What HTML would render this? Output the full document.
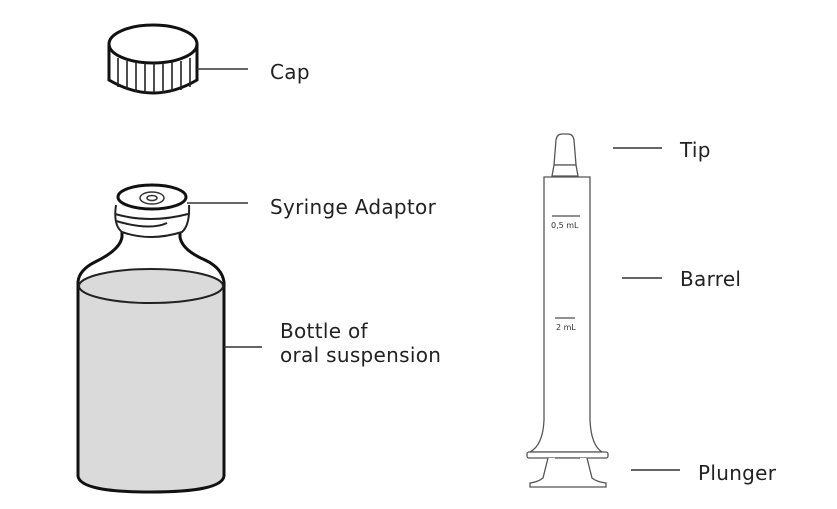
<!DOCTYPE html>
<html><head><style>body{margin:0;background:#fff}svg{display:block}text{font-family:"DejaVu Sans","Liberation Sans",sans-serif;font-size:20px;letter-spacing:0.3px;fill:#222}</style></head><body>
<svg width="837" height="509" viewBox="0 0 837 509">
<!-- Cap -->
<g stroke="#111" stroke-width="3" fill="#fff">
<path d="M109 44 L109 80 Q153 106 197 80 L197 44"/>
<ellipse cx="153" cy="44" rx="44" ry="19"/>
</g>
<g stroke="#222" stroke-width="1.6">
<line x1="118" y1="58" x2="118" y2="87"/><line x1="127" y1="61" x2="127" y2="90"/><line x1="136" y1="62" x2="136" y2="92"/><line x1="145" y1="63" x2="145" y2="93"/><line x1="154" y1="63" x2="154" y2="93"/><line x1="163" y1="63" x2="163" y2="93"/><line x1="172" y1="62" x2="172" y2="92"/><line x1="181" y1="61" x2="181" y2="90"/><line x1="190" y1="58" x2="190" y2="87"/>
</g>
<line x1="197" y1="69" x2="248" y2="69" stroke="#333" stroke-width="1.5"/>
<!-- Bottle -->
<path d="M78 286 L78 476 Q78 492 150 492 Q224 492 224 476 L224 286 Z" fill="#dadada"/>
<g stroke="#111" stroke-width="3" fill="none">
<path d="M122 225 L122 237 Q120 250 95 262 Q79 270 78 282 L78 476 Q80 492 150 492 Q222 492 224 476 L224 282 Q222 268 205 260 Q182 250 180 237 L180 225"/>
</g>
<ellipse cx="151" cy="286" rx="72" ry="17" fill="#dadada" stroke="#222" stroke-width="2"/>
<!-- threads -->
<g stroke="#222" stroke-width="2" fill="#fff">
<path d="M116 205 Q113 225 122 232 Q150 242 182 232 Q190 225 189 205"/>
<path d="M115 214 Q150 224 188 214" fill="none"/>
<path d="M116 221 Q150 231 167 223" fill="none"/>
</g>
<ellipse cx="152" cy="197" rx="34" ry="12" fill="#fff" stroke="#111" stroke-width="3"/>
<ellipse cx="152" cy="198" rx="12" ry="6" fill="none" stroke="#333" stroke-width="1.5"/>
<ellipse cx="152" cy="198" rx="5" ry="2.5" fill="none" stroke="#333" stroke-width="1.5"/>
<line x1="187" y1="203" x2="248" y2="203" stroke="#333" stroke-width="1.5"/>
<line x1="224" y1="347" x2="262" y2="347" stroke="#333" stroke-width="1.5"/>
<!-- Syringe -->
<g stroke="#555" stroke-width="1.3" fill="#fff">
<path d="M554 165 L556 140 Q557 134 562 134 L568 134 Q573 134 574 140 L576 165 Z"/>
<path d="M552 176 L554 165 L576 165 L578 176 Z"/>
<path d="M544 177 L590 177 L590 420 Q591 445 602 452 L548 452 L530 452 Q543 445 544 420 Z"/>
<rect x="527" y="452" width="81" height="6" rx="2"/>
<path d="M548 458 L543 478 Q538 482 530 483 L530 487 L606 487 L606 483 Q597 482 592 478 L587 458"/>
<line x1="555" y1="458" x2="580" y2="458"/>
</g>
<line x1="552" y1="216" x2="580" y2="216" stroke="#222" stroke-width="1"/>
<text x="551" y="228" style="font-size:8px;letter-spacing:0;fill:#333">0,5 mL</text>
<line x1="555" y1="318" x2="575" y2="318" stroke="#222" stroke-width="1"/>
<text x="556" y="330" style="font-size:8px;letter-spacing:0;fill:#333">2 mL</text>
<line x1="613" y1="148" x2="662" y2="148" stroke="#333" stroke-width="1.5"/>
<line x1="622" y1="278" x2="662" y2="278" stroke="#333" stroke-width="1.5"/>
<line x1="631" y1="470" x2="680" y2="470" stroke="#333" stroke-width="1.5"/>
<!-- labels -->
<text x="270" y="79">Cap</text>
<text x="270" y="214">Syringe Adaptor</text>
<text x="280" y="338">Bottle of</text>
<text x="280" y="362">oral suspension</text>
<text x="680" y="157">Tip</text>
<text x="680" y="286">Barrel</text>
<text x="698" y="480">Plunger</text>
</svg>
</body></html>
